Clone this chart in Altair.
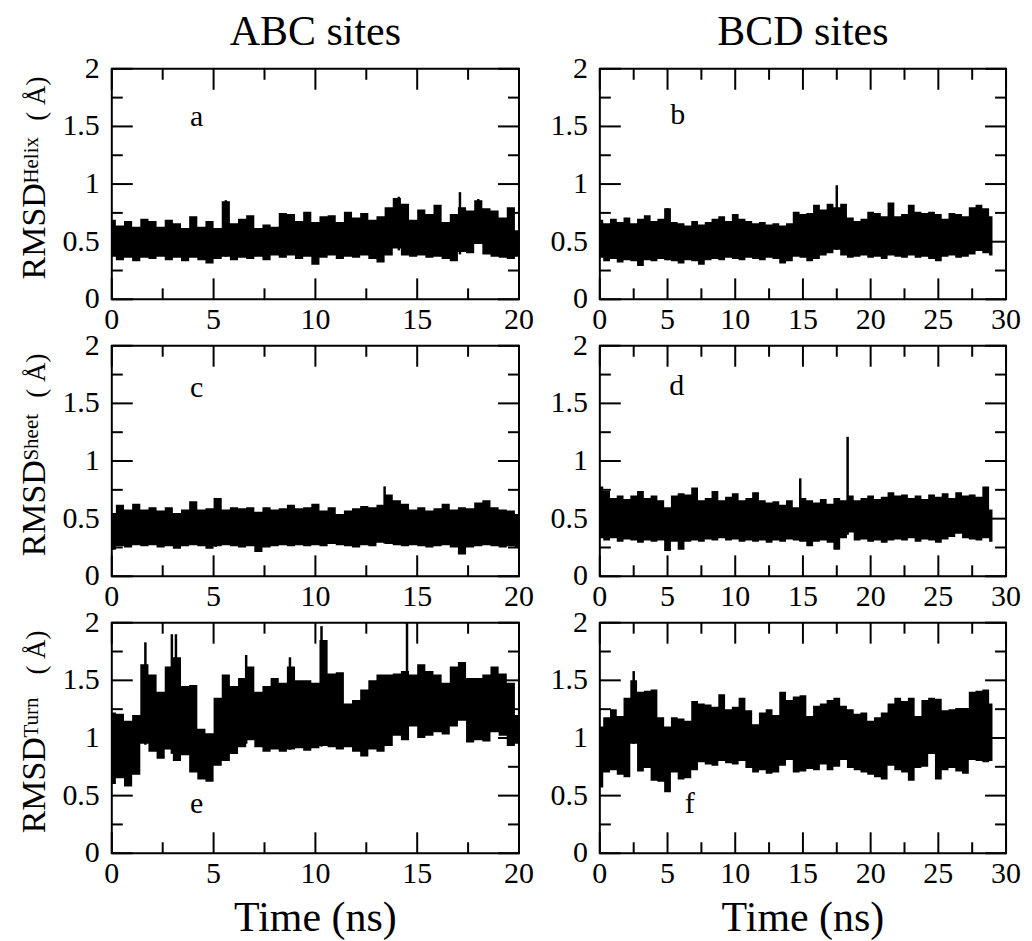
import altair as alt
import pandas as pd
import numpy as np

FONT = "Liberation Serif"

# ---------------- data ----------------
t_abc = [0, 0.4, 0.8, 1.2, 1.6, 2.0, 2.4, 2.8, 3.2, 3.6, 4.0, 4.4, 4.8, 5.2, 5.6, 6.0, 6.4,
         6.8, 7.2, 7.6, 8.0, 8.4, 8.8, 9.2, 9.6, 10.0, 10.4, 10.8, 11.2, 11.6, 12.0, 12.4,
         12.8, 13.2, 13.6, 14.0, 14.4, 14.8, 15.2, 15.6, 16.0, 16.4, 16.8, 17.2, 17.6, 18.0,
         18.4, 18.8, 19.2, 19.6, 20.0]
t_bcd = [0, 0.5, 1.0, 1.5, 2.0, 2.5, 3.0, 3.5, 4.0, 4.5, 5.0, 5.5, 6.0, 6.5, 7.0, 7.5, 8.0,
         8.5, 9.0, 9.5, 10.0, 10.5, 11.0, 11.5, 12.0, 12.5, 13.0, 13.5, 14.0, 14.5, 15.0,
         15.5, 16.0, 16.5, 17.0, 17.5, 18.0, 18.5, 19.0, 19.5, 20.0, 20.5, 21.0, 21.5, 22.0,
         22.5, 23.0, 23.5, 24.0, 24.5, 25.0, 25.5, 26.0, 26.5, 27.0, 27.5, 28.0, 28.5, 29.0]

# (a) ABC helix
a_hi = [0.69, 0.64, 0.68, 0.63, 0.70, 0.68, 0.63, 0.69, 0.66, 0.62, 0.72, 0.63, 0.68, 0.62,
        0.85, 0.66, 0.70, 0.73, 0.62, 0.65, 0.63, 0.75, 0.74, 0.68, 0.76, 0.67, 0.72, 0.73,
        0.67, 0.76, 0.71, 0.75, 0.69, 0.72, 0.80, 0.88, 0.83, 0.69, 0.78, 0.74, 0.82, 0.67,
        0.74, 0.80, 0.77, 0.86, 0.79, 0.77, 0.71, 0.80, 0.60]
a_lo = [0.37, 0.34, 0.36, 0.33, 0.36, 0.35, 0.37, 0.34, 0.36, 0.33, 0.36, 0.34, 0.31, 0.35,
        0.37, 0.34, 0.36, 0.35, 0.37, 0.34, 0.38, 0.36, 0.38, 0.35, 0.37, 0.30, 0.36, 0.38,
        0.35, 0.37, 0.36, 0.38, 0.35, 0.32, 0.38, 0.44, 0.38, 0.37, 0.38, 0.36, 0.37, 0.35,
        0.33, 0.41, 0.40, 0.48, 0.39, 0.37, 0.36, 0.35, 0.37]
a_spike_t = [5.6, 14.1, 17.1, 18.0]
a_spike_v = [0.86, 0.89, 0.93, 0.87]

# (c) ABC sheet
c_hi = [0.55, 0.62, 0.58, 0.63, 0.58, 0.60, 0.57, 0.60, 0.55, 0.58, 0.65, 0.58, 0.59, 0.68,
        0.58, 0.60, 0.59, 0.60, 0.56, 0.60, 0.58, 0.59, 0.62, 0.59, 0.60, 0.63, 0.57, 0.60,
        0.54, 0.57, 0.59, 0.61, 0.60, 0.62, 0.71, 0.66, 0.63, 0.58, 0.60, 0.57, 0.59, 0.63,
        0.58, 0.60, 0.59, 0.64, 0.66, 0.60, 0.58, 0.57, 0.54]
c_lo = [0.23, 0.26, 0.25, 0.27, 0.26, 0.27, 0.25, 0.26, 0.24, 0.26, 0.27, 0.26, 0.24, 0.26,
        0.27, 0.26, 0.25, 0.26, 0.21, 0.25, 0.26, 0.27, 0.26, 0.27, 0.26, 0.27, 0.26, 0.28,
        0.27, 0.26, 0.25, 0.27, 0.26, 0.29, 0.28, 0.27, 0.26, 0.27, 0.26, 0.25, 0.26, 0.27,
        0.25, 0.19, 0.25, 0.26, 0.27, 0.26, 0.25, 0.26, 0.25]
c_spike_t = [13.4, 5.1]
c_spike_v = [0.78, 0.68]

# (e) ABC turn
e_hi = [1.22, 1.21, 1.15, 1.20, 1.64, 1.55, 1.40, 1.62, 1.70, 1.45, 1.46, 1.08, 1.04, 1.35,
        1.55, 1.45, 1.52, 1.62, 1.40, 1.45, 1.52, 1.48, 1.62, 1.50, 1.50, 1.48, 1.85, 1.56,
        1.57, 1.30, 1.33, 1.42, 1.50, 1.55, 1.55, 1.56, 1.58, 1.55, 1.64, 1.58, 1.55, 1.48,
        1.62, 1.66, 1.52, 1.52, 1.55, 1.62, 1.56, 1.48, 1.20]
e_lo = [0.60, 0.65, 0.58, 0.68, 0.95, 0.88, 0.82, 0.90, 0.80, 0.85, 0.70, 0.64, 0.62, 0.76,
        0.80, 0.86, 0.92, 0.98, 0.92, 0.88, 0.90, 0.88, 0.90, 0.91, 0.89, 0.91, 0.93, 0.92,
        0.90, 0.92, 0.88, 0.84, 0.90, 0.88, 0.93, 1.02, 0.98, 1.10, 1.00, 1.02, 1.05, 1.03,
        1.10, 1.15, 0.96, 0.98, 0.97, 1.05, 1.02, 0.93, 0.95]
e_spike_t = [1.65, 2.95, 3.15, 6.6, 8.75, 10.3, 14.5]
e_spike_v = [1.83, 1.90, 1.90, 1.72, 1.70, 1.97, 2.00]

# (b) BCD helix
b_hi = [0.69, 0.66, 0.70, 0.67, 0.71, 0.66, 0.70, 0.73, 0.68, 0.70, 0.79, 0.67, 0.66, 0.64,
        0.68, 0.65, 0.67, 0.70, 0.72, 0.68, 0.74, 0.70, 0.68, 0.66, 0.67, 0.65, 0.66, 0.64,
        0.66, 0.76, 0.74, 0.75, 0.82, 0.78, 0.83, 0.80, 0.83, 0.71, 0.68, 0.70, 0.76, 0.75,
        0.72, 0.84, 0.72, 0.74, 0.82, 0.76, 0.75, 0.76, 0.74, 0.70, 0.75, 0.74, 0.72, 0.80,
        0.82, 0.79, 0.72]
b_lo = [0.36, 0.33, 0.35, 0.32, 0.34, 0.33, 0.29, 0.34, 0.33, 0.35, 0.34, 0.33, 0.31, 0.34,
        0.33, 0.30, 0.34, 0.35, 0.34, 0.36, 0.35, 0.34, 0.36, 0.35, 0.34, 0.36, 0.35, 0.31,
        0.33, 0.37, 0.36, 0.33, 0.35, 0.38, 0.40, 0.43, 0.38, 0.36, 0.37, 0.38, 0.36, 0.37,
        0.35, 0.38, 0.37, 0.36, 0.38, 0.36, 0.37, 0.35, 0.33, 0.37, 0.38, 0.36, 0.37, 0.39,
        0.42, 0.40, 0.38]
b_spike_t = [17.5, 5.0]
b_spike_v = [0.99, 0.79]

# (d) BCD sheet
d_hi = [0.78, 0.74, 0.68, 0.70, 0.67, 0.70, 0.74, 0.68, 0.70, 0.66, 0.60, 0.70, 0.72, 0.71,
        0.77, 0.66, 0.68, 0.74, 0.66, 0.69, 0.72, 0.66, 0.68, 0.73, 0.66, 0.64, 0.65, 0.62,
        0.66, 0.60, 0.68, 0.66, 0.64, 0.67, 0.63, 0.68, 0.66, 0.70, 0.66, 0.68, 0.70, 0.67,
        0.69, 0.73, 0.70, 0.71, 0.68, 0.70, 0.67, 0.71, 0.69, 0.72, 0.68, 0.73, 0.70, 0.71,
        0.69, 0.78, 0.58]
d_lo = [0.33, 0.31, 0.33, 0.30, 0.32, 0.31, 0.29, 0.31, 0.30, 0.31, 0.22, 0.30, 0.23, 0.30,
        0.31, 0.30, 0.32, 0.31, 0.33, 0.31, 0.32, 0.30, 0.31, 0.30, 0.31, 0.29, 0.31, 0.30,
        0.32, 0.31, 0.30, 0.26, 0.30, 0.31, 0.29, 0.23, 0.33, 0.38, 0.31, 0.32, 0.30, 0.31,
        0.29, 0.31, 0.32, 0.31, 0.33, 0.30, 0.32, 0.31, 0.29, 0.32, 0.34, 0.37, 0.33, 0.32,
        0.31, 0.33, 0.30]
d_spike_t = [14.8, 18.3]
d_spike_v = [0.85, 1.21]

# (f) BCD turn
f_hi = [1.10, 1.18, 1.25, 1.19, 1.35, 1.50, 1.40, 1.41, 1.42, 1.18, 1.10, 1.18, 1.17, 1.15,
        1.32, 1.30, 1.29, 1.27, 1.38, 1.25, 1.27, 1.35, 1.24, 1.12, 1.22, 1.25, 1.20, 1.40,
        1.33, 1.36, 1.37, 1.19, 1.28, 1.30, 1.33, 1.35, 1.28, 1.25, 1.21, 1.22, 1.15, 1.18,
        1.22, 1.30, 1.35, 1.32, 1.35, 1.19, 1.33, 1.35, 1.34, 1.24, 1.25, 1.26, 1.26, 1.40,
        1.41, 1.42, 1.30]
f_lo = [0.57, 0.70, 0.72, 0.68, 0.66, 0.95, 0.71, 0.74, 0.63, 0.62, 0.53, 0.70, 0.64, 0.65,
        0.72, 0.79, 0.77, 0.76, 0.80, 0.78, 0.77, 0.80, 0.74, 0.70, 0.72, 0.69, 0.70, 0.76,
        0.81, 0.70, 0.71, 0.73, 0.72, 0.77, 0.72, 0.75, 0.81, 0.74, 0.72, 0.70, 0.68, 0.66,
        0.64, 0.76, 0.72, 0.70, 0.63, 0.74, 0.75, 0.86, 0.64, 0.72, 0.74, 0.71, 0.69, 0.81,
        0.80, 0.79, 0.80]
f_spike_t = [2.5]
f_spike_v = [1.58]

# axis ticks / labels
x_major_abc = [0, 5, 10, 15, 20]
x_minor_abc = [2.5, 7.5, 12.5, 17.5]
x_major_bcd = [0, 5, 10, 15, 20, 25, 30]
x_minor_bcd = [2.5, 7.5, 12.5, 17.5, 22.5, 27.5]
y_major = [0, 0.5, 1, 1.5, 2]
y_minor = [0.25, 0.75, 1.25, 1.75]
y_major_labels = ["0", "0.5", "1", "1.5", "2"]

col_titles = ["ABC sites", "BCD sites"]
x_title = "Time (ns)"
sup_labels = ["Helix", "Sheet", "Turn"]
letters = [["a", "b"], ["c", "d"], ["e", "f"]]

H = 231
MAJ = 21
MIN = 11


def panel(t, hi, lo, sp_t, sp_v, xmax, xmaj, xmin, width, letter, letter_pos,
          sup=None, title=None, xlab=False):
    df = pd.DataFrame({"t": t, "hi": hi, "lo": lo})
    xs = alt.Scale(domain=[0, xmax], nice=False, zero=False)
    ys = alt.Scale(domain=[0, 2], nice=False, zero=False)

    def X(f):
        return alt.X(f, scale=xs, axis=None, title=None)

    def Y(f):
        return alt.Y(f, scale=ys, axis=None, title=None)

    area = alt.Chart(df).mark_area(color="black", interpolate="step").encode(
        x=X("t:Q"), y=Y("lo:Q"), y2="hi:Q")
    base = np.interp(sp_t, t, lo)
    sdf = pd.DataFrame({"t": sp_t, "peak": sp_v, "base": base})
    spikes = alt.Chart(sdf).mark_rule(color="black", strokeWidth=2.5).encode(
        x=X("t:Q"), y=Y("base:Q"), y2="peak:Q")
    layers = [area, spikes]

    def xt(vals, y0, y1):
        return alt.Chart(pd.DataFrame({"t": vals})).mark_rule(color="black", strokeWidth=2).encode(
            x=X("t:Q"), y=alt.value(y0), y2=alt.value(y1))

    def yt(vals, x0, x1):
        return alt.Chart(pd.DataFrame({"lo": vals})).mark_rule(color="black", strokeWidth=2).encode(
            y=Y("lo:Q"), x=alt.value(x0), x2=alt.value(x1))

    layers += [xt(xmaj, 0, MAJ), xt(xmin, 0, MIN), xt(xmaj, H, H - MAJ), xt(xmin, H, H - MIN),
               yt(y_major, 0, MAJ), yt(y_minor, 0, MIN),
               yt(y_major, width, width - MAJ), yt(y_minor, width, width - MIN)]

    # tick labels (text marks placed through the scales)
    xl = pd.DataFrame({"t": xmaj, "s": [str(v) for v in xmaj]})
    layers.append(alt.Chart(xl).mark_text(font=FONT, fontSize=30, color="black", align="center",
                                          baseline="top").encode(
        x=X("t:Q"), y=alt.value(H + 6), text="s:N"))
    yl = pd.DataFrame({"lo": y_major, "s": y_major_labels})
    layers.append(alt.Chart(yl).mark_text(font=FONT, fontSize=30, color="black", align="right",
                                          baseline="middle").encode(
        y=Y("lo:Q"), x=alt.value(-12), text="s:N"))

    def txt(s, x, y, size, angle=0, align="center", baseline="middle"):
        kw = dict(font=FONT, fontSize=size, color="black", align=align, baseline=baseline)
        if angle:
            kw["angle"] = angle
        return alt.Chart(pd.DataFrame({"s": [s]})).mark_text(**kw).encode(
            text="s:N", x=alt.value(x), y=alt.value(y))

    layers.append(txt(letter, letter_pos[0], letter_pos[1], 30))
    if title:
        layers.append(txt(title, width / 2, -24, 42, baseline="alphabetic"))
    if xlab:
        layers.append(txt(x_title, width / 2, H + 78, 42, baseline="alphabetic"))
    if sup:
        layers.append(txt("RMSD", -67, 211, 34, angle=270, align="left", baseline="alphabetic"))
        layers.append(txt(sup, -74, 115, 21, angle=270, align="left", baseline="alphabetic"))
        layers.append(txt("( Å)", -67, 52, 27, angle=270, align="left", baseline="alphabetic"))
    return alt.layer(*layers).properties(width=width, height=H)


WL, WR = 408, 407
pa = panel(t_abc, a_hi, a_lo, a_spike_t, a_spike_v, 20, x_major_abc, x_minor_abc, WL,
           letters[0][0], (85, 48), sup=sup_labels[0], title=col_titles[0])
pb = panel(t_bcd, b_hi, b_lo, b_spike_t, b_spike_v, 30, x_major_bcd, x_minor_bcd, WR,
           letters[0][1], (78, 46), title=col_titles[1])
pc = panel(t_abc, c_hi, c_lo, c_spike_t, c_spike_v, 20, x_major_abc, x_minor_abc, WL,
           letters[1][0], (85, 42), sup=sup_labels[1])
pd_ = panel(t_bcd, d_hi, d_lo, d_spike_t, d_spike_v, 30, x_major_bcd, x_minor_bcd, WR,
            letters[1][1], (77, 40))
pe = panel(t_abc, e_hi, e_lo, e_spike_t, e_spike_v, 20, x_major_abc, x_minor_abc, WL,
           letters[2][0], (85, 182), sup=sup_labels[2], xlab=True)
pf = panel(t_bcd, f_hi, f_lo, f_spike_t, f_spike_v, 30, x_major_bcd, x_minor_bcd, WR,
           letters[2][1], (90, 182), xlab=True)

chart = alt.concat(pa, pb, pc, pd_, pe, pf, columns=2, bounds="flush",
                   spacing={"row": 46.5, "column": 81}).properties(
    padding={"left": 9, "top": 1, "right": 2, "bottom": 0}, background="white"
).configure(font=FONT).configure_view(stroke="black", strokeWidth=2)

chart.save("out.html", embed_options={"renderer": "svg", "actions": False})
